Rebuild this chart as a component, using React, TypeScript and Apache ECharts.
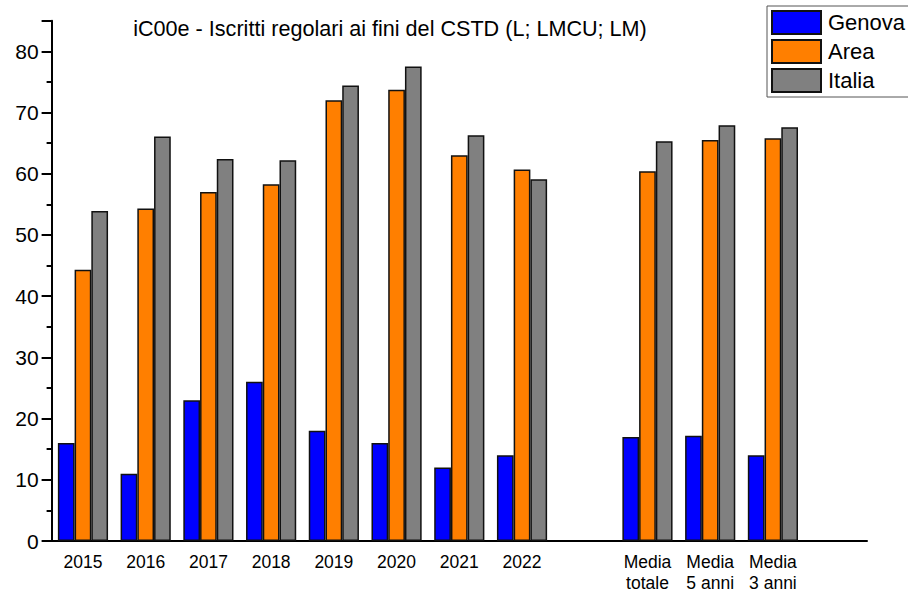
import React, { useEffect, useRef } from "react";
import * as echarts from "echarts";

const categories = ["2015", "2016", "2017", "2018", "2019", "2020", "2021", "2022", "", "Media\ntotale", "Media\n5 anni", "Media\n3 anni", ""];
const genova = [16.0, 11.0, 23.0, 26.0, 18.0, 16.0, 12.0, 14.0, null, 17.0, 17.2, 14.0, null];
const area = [44.3, 54.3, 57.0, 58.3, 72.0, 73.7, 63.0, 60.7, null, 60.4, 65.5, 65.8, null];
const italia = [53.9, 66.1, 62.4, 62.2, 74.4, 77.5, 66.3, 59.1, null, 65.3, 67.9, 67.6, null];
const seriesNames = ["Genova", "Area", "Italia"];
const title = "iC00e - Iscritti regolari ai fini del CSTD (L; LMCU; LM)";

export default function App() {
  const ref = useRef<HTMLDivElement>(null);
  useEffect(() => {
    if (!ref.current) return;
    const chart = echarts.init(ref.current, null, { renderer: "svg" });
    const font = "Liberation Sans, Arial, sans-serif";
    const colors = ["#0000FF", "#FF7F00", "#808080"];
    const data = [genova, area, italia];
    chart.setOption({
      animation: false,
      textStyle: { fontFamily: font },
      title: {
        text: title,
        left: 385,
        textAlign: "center",
        top: 12,
        textStyle: { fontFamily: font, fontSize: 21.6, fontWeight: "normal", color: "#000" },
      },
      legend: {
        orient: "vertical",
        left: 767,
        top: 6,
        width: 140,
        padding: [4, 30, 4, 4],
        itemGap: 4,
        itemWidth: 49,
        itemHeight: 23,
        icon: "rect",
        borderColor: "#555",
        borderWidth: 1,
        textStyle: { fontFamily: font, fontSize: 22, lineHeight: 23, color: "#000", padding: [0, 0, 0, 2] },
        data: seriesNames,
      },
      grid: { left: 51.6, right: 41, top: 20.7, bottom: 51, containLabel: false },
      xAxis: {
        type: "category",
        data: categories,
        axisLine: { lineStyle: { color: "#000", width: 2 } },
        axisTick: { show: false },
        axisLabel: { color: "#000", fontSize: 17.5, margin: 10, lineHeight: 21, fontFamily: font, interval: 0 },
      },
      yAxis: {
        type: "value",
        min: 0,
        max: 85,
        interval: 10,
        axisLine: { show: true, lineStyle: { color: "#000", width: 2 } },
        axisTick: { show: true, inside: false, length: 10, lineStyle: { color: "#000", width: 2 } },
        minorTick: { show: true, splitNumber: 2, length: 5, lineStyle: { color: "#000", width: 2 } },
        splitLine: { show: false },
        axisLabel: { color: "#000", fontSize: 21, margin: 13, fontFamily: font, showMaxLabel: false },
      },
      series: seriesNames.map((name, i) => ({
        name,
        type: "bar",
        data: data[i],
        barGap: "0%",
        barCategoryGap: "20%",
        itemStyle: { color: colors[i], borderColor: "#111", borderWidth: 1.5 },
      })),
    });
    return () => chart.dispose();
  }, []);
  return <div ref={ref} style={{ width: 908, height: 593, position: "absolute", left: 0, top: 0, background: "#fff" }} />;
}
